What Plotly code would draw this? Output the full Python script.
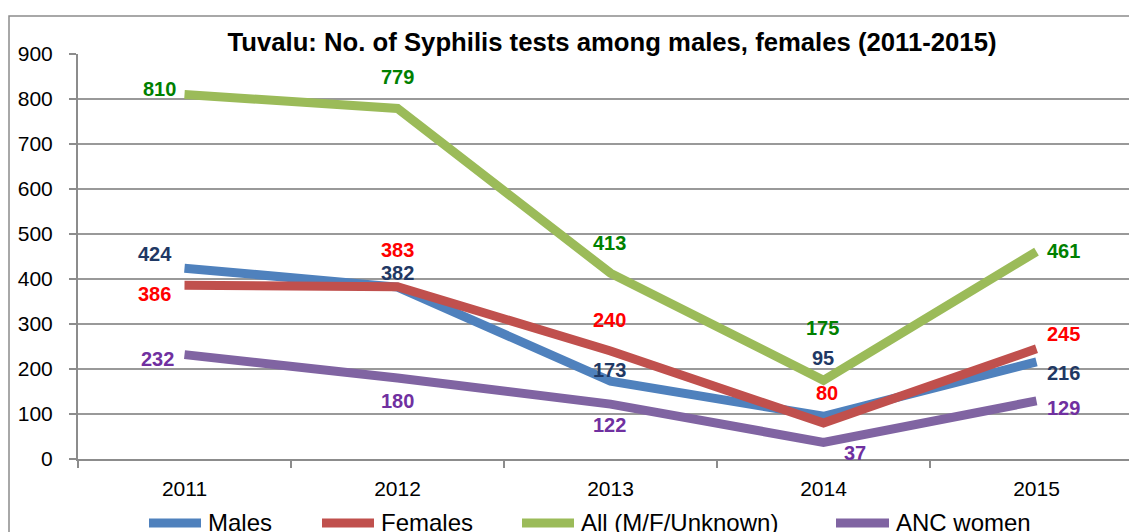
import plotly.graph_objects as go

years = ["2011", "2012", "2013", "2014", "2015"]
males = [424, 382, 173, 95, 216]
females = [386, 383, 240, 80, 245]
all_mfu = [810, 779, 413, 175, 461]
anc = [232, 180, 122, 37, 129]

series = [
    ("Males", males, "#4F81BD", "#1F3864"),
    ("Females", females, "#C0504D", "#FF0000"),
    ("All (M/F/Unknown)", all_mfu, "#9BBB59", "#008000"),
    ("ANC women", anc, "#8064A2", "#7030A0"),
]

# pixel offsets for the data labels (styling only)
offsets = {
    "Males": [(-30, 14), (0, 14), (-1, 11), (-1, 58), (27, -11)],
    "Females": [(-30, -9), (0, 37), (-1, 31), (3, 30), (27, 15)],
    "All (M/F/Unknown)": [(-25, 6), (0, 31), (-1, 30), (-1, 52), (27, 1)],
    "ANC women": [(-27, -4), (0, -23), (-1, -21), (31, -11), (27, -7)],
}
# custom legend positions in pixels (line start, line end)
legend_px = [(145, 205), (318, 378), (518, 578), (832, 893)]
legend_y_px = 523

W, H = 1129, 532
L, T, B = 78, 54, 73
plot_w = W - L
plot_h = H - T - B


def px_x(px):
    return (px - L) / plot_w


def px_y(py):
    return (H - B - py) / plot_h


fig = go.Figure()
annotations = []
shapes = [dict(
    type="rect", xref="paper", yref="paper",
    x0=px_x(9), x1=px_x(W + 20), y0=px_y(H + 20), y1=px_y(16),
    line=dict(color="#8c8c8c", width=1.5), layer="below",
)]

for k, (name, vals, col, lcol) in enumerate(series):
    fig.add_trace(go.Scatter(
        x=years, y=vals, mode="lines", name=name, showlegend=False,
        line=dict(color=col, width=9),
    ))
    for i, v in enumerate(vals):
        dx, dy = offsets[name][i]
        annotations.append(dict(
            x=i, y=v, xref="x", yref="y", text="<b>%d</b>" % v, showarrow=False,
            xshift=dx, yshift=dy,
            font=dict(family="Liberation Sans", size=20, color=lcol),
        ))
    x0, x1 = legend_px[k]
    shapes.append(dict(
        type="line", xref="paper", yref="paper",
        x0=px_x(x0 + 4), x1=px_x(x1 - 4), y0=px_y(legend_y_px), y1=px_y(legend_y_px),
        line=dict(color=col, width=9),
    ))
    annotations.append(dict(
        x=px_x(x1 + 1), y=px_y(legend_y_px - 1), xref="paper", yref="paper",
        xanchor="left", yanchor="middle", text=name, showarrow=False,
        font=dict(family="Liberation Sans", size=24, color="black"),
    ))

cat_w = 213.0
right_extent = (W - L) / cat_w - 0.5

fig.update_layout(
    width=W, height=H,
    margin=dict(l=L, r=0, t=T, b=B, pad=0),
    paper_bgcolor="white", plot_bgcolor="white",
    font=dict(family="Liberation Sans", size=21, color="black"),
    showlegend=False,
    title=dict(
        text="<b>Tuvalu: No. of Syphilis tests among males, females (2011-2015)</b>",
        x=612 / W, xanchor="center", y=1 - 42 / H, yanchor="middle",
        xref="container", yref="container",
        font=dict(family="Liberation Sans", size=25.7, color="black"),
    ),
    xaxis=dict(
        type="category", range=[-0.5, right_extent],
        showgrid=False, showline=True, linecolor="#8c8c8c", linewidth=2,
        ticks="outside", tickson="boundaries", ticklen=7, tickwidth=2,
        tickcolor="#8c8c8c", ticklabelstandoff=10,
        tickfont=dict(size=21),
    ),
    yaxis=dict(
        range=[0, 900], dtick=100, showgrid=True, gridcolor="#999999",
        gridwidth=2, showline=True, linecolor="#8c8c8c", linewidth=2,
        ticks="outside", ticklen=7, tickwidth=2, tickcolor="#8c8c8c",
        ticklabelstandoff=12, zeroline=False,
        tickfont=dict(size=21),
    ),
    annotations=annotations,
    shapes=shapes,
)

fig.write_html("out.html", config={"displayModeBar": False},
               post_script="document.body.style.margin='0';")
